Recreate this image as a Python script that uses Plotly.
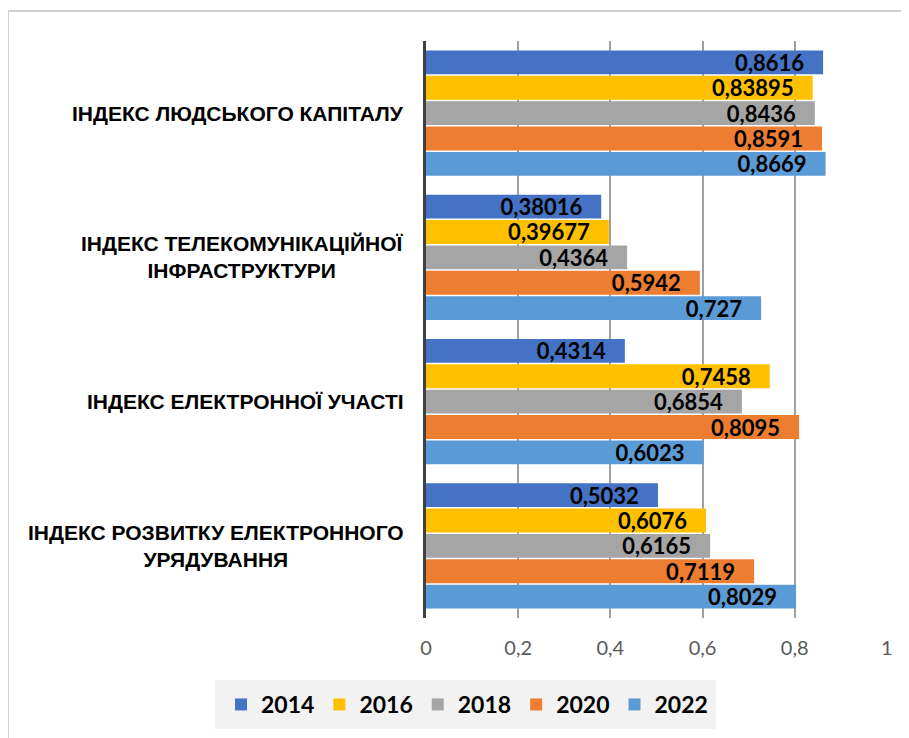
import plotly.graph_objects as go

categories = [
    "ІНДЕКС ЛЮДСЬКОГО КАПІТАЛУ",
    "ІНДЕКС ТЕЛЕКОМУНІКАЦІЙНОЇ<br>ІНФРАСТРУКТУРИ",
    "ІНДЕКС ЕЛЕКТРОННОЇ УЧАСТІ",
    "ІНДЕКС РОЗВИТКУ ЕЛЕКТРОННОГО<br>УРЯДУВАННЯ",
]
years = ["2014", "2016", "2018", "2020", "2022"]
v2014 = [0.8616, 0.38016, 0.4314, 0.5032]
v2016 = [0.83895, 0.39677, 0.7458, 0.6076]
v2018 = [0.8436, 0.4364, 0.6854, 0.6165]
v2020 = [0.8591, 0.5942, 0.8095, 0.7119]
v2022 = [0.8669, 0.727, 0.6023, 0.8029]
series = [v2014, v2016, v2018, v2020, v2022]
colors = ["#4472C4", "#FFC000", "#A5A5A5", "#ED7D31", "#5B9BD5"]
xticks = [0, 0.2, 0.4, 0.6, 0.8, 1]
xticklabels = ["0", "0,2", "0,4", "0,6", "0,8", "1"]

OFF = 8  # page body margin
W, H = 909 - OFF, 738 - OFF
L, R, T, B = 426 - OFF, 887 - OFF, 41 - OFF, 618 - OFF
pw, ph = R - L, B - T

def px(x):
    return (x - OFF - L) / pw

def py(y):
    return (B - (y - OFF)) / ph

fig = go.Figure()
for name, vals, col in zip(years, series, colors):
    fig.add_trace(go.Bar(
        y=categories, x=vals, name=name, orientation="h",
        marker=dict(color=col, line=dict(width=0)),
        text=[str(v).replace(".", ",") for v in vals],
        texttemplate="%{text}\u00a0\u00a0\u00a0",
        textposition="inside", insidetextanchor="end",
        constraintext="none", cliponaxis=False,
        textfont=dict(family="Lato", size=22, color="#000000", weight="bold"),
        hoverinfo="skip",
    ))

annotations = []
for c in categories:
    annotations.append(dict(
        x=0, xref="paper", y=c, yref="y", xanchor="right", yanchor="middle",
        xshift=-20, text=c, showarrow=False, align="center",
        font=dict(family="Liberation Sans", size=21, color="#000000", weight="bold"),
    ))

shapes = [
    dict(type="rect", xref="paper", yref="paper",
         x0=px(8), x1=px(916), y0=py(746), y1=py(11),
         line=dict(color="#D0D0D0", width=2), fillcolor="rgba(0,0,0,0)", layer="below"),
    dict(type="rect", xref="paper", yref="paper",
         x0=px(215), x1=px(716), y0=py(729), y1=py(680),
         line=dict(width=0), fillcolor="#F2F2F2", layer="below"),
]

fig.update_layout(
    width=W, height=H,
    margin=dict(l=L, r=W - R, t=T, b=H - B, autoexpand=False),
    paper_bgcolor="white", plot_bgcolor="white",
    barmode="group", bargap=0.12, bargroupgap=0.06,
    separators=",.",
    showlegend=True,
    legend=dict(
        orientation="h", xref="paper", yref="paper",
        x=px(221), xanchor="left",
        y=py(704.5), yanchor="middle",
        bgcolor="rgba(0,0,0,0)",
        font=dict(family="Lato", size=23, color="#000000", weight="bold"),
        itemwidth=30, traceorder="normal",
    ),
    xaxis=dict(
        range=[0, 1.0002], tickvals=xticks, ticktext=xticklabels,
        showgrid=True, gridcolor="#A0A0A0", gridwidth=1.5, zeroline=False,
        showline=False, ticks="", ticklabelstandoff=16,
        tickfont=dict(family="Lato", size=20, color="#595959"),
    ),
    yaxis=dict(
        categoryorder="array", categoryarray=categories, autorange="reversed",
        showticklabels=False, showgrid=False, zeroline=False,
        showline=True, linecolor="#404040", linewidth=3, ticks="",
    ),
    annotations=annotations, shapes=shapes,
)

fig.write_html("out.html")
